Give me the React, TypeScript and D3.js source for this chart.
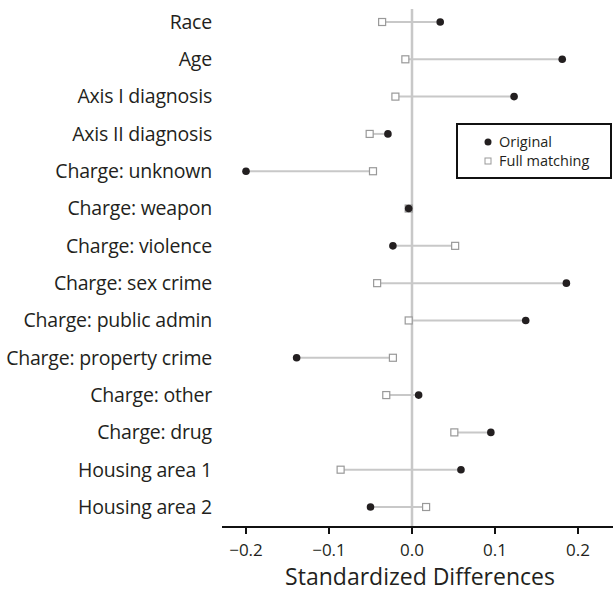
import React from "react";
import * as d3 from "d3";

const categories = [
  "Race",
  "Age",
  "Axis I diagnosis",
  "Axis II diagnosis",
  "Charge: unknown",
  "Charge: weapon",
  "Charge: violence",
  "Charge: sex crime",
  "Charge: public admin",
  "Charge: property crime",
  "Charge: other",
  "Charge: drug",
  "Housing area 1",
  "Housing area 2",
];
const original = [0.034, 0.181, 0.123, -0.029, -0.2, -0.004, -0.023, 0.186, 0.137, -0.139, 0.008, 0.095, 0.059, -0.05];
const fullMatching = [-0.036, -0.008, -0.02, -0.051, -0.047, -0.004, 0.052, -0.042, -0.004, -0.023, -0.031, 0.051, -0.086, 0.017];
const xTicks = [-0.2, -0.1, 0.0, 0.1, 0.2];

const W = 613;
const H = 592;
const FONT = "'Open Sans', 'Noto Sans', sans-serif";

export default function App() {
  const x = d3.scaleLinear().domain([-0.2, 0.2]).range([246, 578]);
  const y = d3
    .scalePoint<string>()
    .domain(categories)
    .range([22, 507]);
  const axisY = 527;
  const fmt = (v: number) => (v < 0 ? "\u2212" : "") + Math.abs(v).toFixed(1);

  return (
    <svg
      width={W}
      height={H}
      style={{ position: "absolute", left: 0, top: 0, fontFamily: FONT }}
    >
      <rect width={W} height={H} fill="#fff" />
      {/* zero line */}
      <line x1={x(0)} x2={x(0)} y1={9} y2={axisY} stroke="#c8c8c8" strokeWidth={2.5} />
      {categories.map((c, i) => {
        const yy = y(c)!;
        const s = x(fullMatching[i]);
        const o = x(original[i]);
        return (
          <g key={c}>
            <text x={212} y={yy} dy="0.35em" textAnchor="end" fontSize={19.5} fill="#231f20" letterSpacing={-0.2}>
              {c}
            </text>
            <line x1={s} x2={o} y1={yy} y2={yy} stroke="#c8c8c8" strokeWidth={2} />
            <rect x={s - 3.5} y={yy - 3.5} width={7} height={7} fill="#fff" stroke="#999" strokeWidth={1.2} />
            <circle cx={o} cy={yy} r={3.8} fill="#231f20" />
          </g>
        );
      })}
      {/* x axis */}
      <line x1={222} x2={W} y1={axisY} y2={axisY} stroke="#111" strokeWidth={2} />
      {xTicks.map((t) => (
        <g key={t}>
          <line x1={x(t)} x2={x(t)} y1={axisY} y2={axisY + 7} stroke="#111" strokeWidth={2} />
          <text x={x(t)} y={axisY + 23} dy="0.35em" textAnchor="middle" fontSize={17} fill="#231f20">
            {fmt(t)}
          </text>
        </g>
      ))}
      <text x={420} y={585} textAnchor="middle" fontSize={23} fill="#231f20">
        Standardized Differences
      </text>
      {/* legend */}
      <rect x={457} y={124} width={154} height={54} fill="#fff" stroke="#111" strokeWidth={2} />
      <circle cx={488} cy={142} r={3.5} fill="#231f20" />
      <text x={499} y={142} dy="0.35em" fontSize={14.5} fill="#231f20">Original</text>
      <rect x={485} y={158} width={6} height={6} fill="#fff" stroke="#999" strokeWidth={1} />
      <text x={499} y={161} dy="0.35em" fontSize={14.5} fill="#231f20">Full matching</text>
    </svg>
  );
}
